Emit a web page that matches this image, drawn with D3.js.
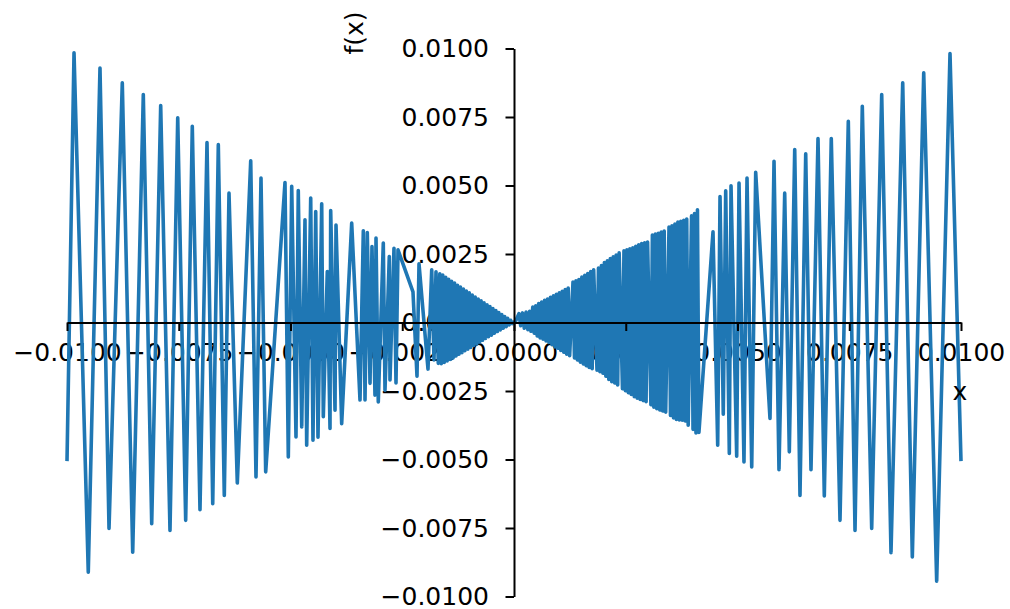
<!DOCTYPE html>
<html>
<head>
<meta charset="utf-8">
<script src="https://cdn.jsdelivr.net/npm/d3@7"></script>
<style>
  body { margin: 0; background: #fff; }
  svg text { font-family: "DejaVu Sans", sans-serif; }
</style>
</head>
<body>
<div id="chart"></div>
<script>
// tick positions and their labels (same for both axes)
const tickValues = [-0.01, -0.0075, -0.005, -0.0025, 0, 0.0025, 0.005, 0.0075, 0.01];
const tickLabels = ["\u22120.0100", "\u22120.0075", "\u22120.0050", "\u22120.0025", "0.0000",
                    "0.0025", "0.0050", "0.0075", "0.0100"];

const outerLeft = [
  [-0.01, -0.00506], [-0.009843, 0.00984], [-0.009524, -0.00911], [-0.009262, 0.00929],
  [-0.00906, -0.00752], [-0.008763, 0.00875], [-0.00853, -0.00838], [-0.008293, 0.00832],
  [-0.008105, -0.00734], [-0.007904, 0.00792], [-0.007696, -0.00759], [-0.007523, 0.00747],
  [-0.007345, -0.00722], [-0.007197, 0.00716], [-0.007025, -0.00683], [-0.006868, 0.00657],
  [-0.00674, -0.00661], [-0.006615, 0.00649], [-0.006481, -0.00631], [-0.006376, 0.00472],
  [-0.00619, -0.00586], [-0.00589, 0.0059], [-0.005772, -0.00564], [-0.00566, 0.00527],
  [-0.005555, -0.00545], [-0.005123, 0.00511], [-0.005049, -0.00491], [-0.004973, 0.00497],
  [-0.004877, -0.00418], [-0.004826, 0.00482], [-0.004749, -0.00381], [-0.004676, 0.00375],
  [-0.004638, -0.00448], [-0.004548, 0.00454], [-0.004497, -0.0043], [-0.004436, 0.00405],
  [-0.004385, -0.00419], [-0.004302, 0.00433], [-0.004266, -0.00344], [-0.004177, 0.00186],
  [-0.004116, -0.00387], [-0.004101, 0.00409], [-0.004004, -0.0032], [-0.003982, 0.00356],
  [-0.003855, -0.00369], [-0.003631, 0.00363], [-0.003445, -0.00283], [-0.003371, 0.00335],
  [-0.003333, -0.00283], [-0.003282, 0.00328], [-0.003221, -0.00222], [-0.003177, 0.00277],
  [-0.00311, -0.00265], [-0.003087, 0.00308], [-0.003036, -0.0029], [-0.002924, 0.0029],
  [-0.002886, -0.00247], [-0.00279, 0.00241], [-0.002774, -0.0021], [-0.002685, 0.00271],
  [-0.00264, -0.00221], [-0.002595, 0.00265], [-0.00226, 0.00112], [-0.00217, -0.00196],
  [-0.002125, 0.00214], [-0.001924, -0.0017], [-0.001841, 0.00192], [-0.00179, -0.00137],
  [-0.001745, 0.00185], [-0.001694, -0.00149]
];

const coreLeft = [
  [-0.00166, 0.00178], [-0.001627, -0.0015], [-0.001594, 0.00173], [-0.001561, -0.00146],
  [-0.001528, 0.00165], [-0.001495, -0.0014], [-0.001462, 0.00158], [-0.001429, -0.00135],
  [-0.001396, 0.0015], [-0.001363, -0.00129], [-0.00133, 0.00144], [-0.001297, -0.00122],
  [-0.001264, 0.00136], [-0.001231, -0.00116], [-0.001198, 0.00129], [-0.001165, -0.0011],
  [-0.001132, 0.00122], [-0.001099, -0.00103], [-0.001066, 0.00115], [-0.001033, -0.00097],
  [-0.001, 0.00108], [-0.000967, -0.00091], [-0.000934, 0.001], [-0.000901, -0.00084],
  [-0.000868, 0.00093], [-0.000835, -0.00078], [-0.000802, 0.00086], [-0.000769, -0.00071],
  [-0.000736, 0.00079], [-0.000703, -0.00065], [-0.00067, 0.00072], [-0.000637, -0.00058],
  [-0.000604, 0.00065], [-0.000571, -0.00052], [-0.000538, 0.00058], [-0.000505, -0.00046],
  [-0.000472, 0.00051], [-0.000439, -0.00039], [-0.000406, 0.00044], [-0.000373, -0.00033],
  [-0.00034, 0.00036], [-0.000307, -0.00027], [-0.000274, 0.00029], [-0.000241, -0.00021],
  [-0.000208, 0.00022], [-0.000175, -0.00015], [-0.000142, 0.00015], [-0.000109, -0.00009],
  [-0.000076, 0.00008], [-0.000043, -0.00004], [-0.00001, 0.00001]
];

const coreMid = [
  [0.00003, 0.00003], [0.00011, 0.00032], [0.00015, -0.00012], [0.00019, 0.00035],
  [0.00023, -0.00021], [0.00027, 0.00038], [0.00031, -0.00026], [0.00035, 0.00041],
  [0.00038, -0.00032]
];

const coreRight = [
  [0.00042, 0.00056], [0.000453, -0.00039], [0.000486, 0.00061], [0.000519, -0.00049],
  [0.000552, 0.00069], [0.000585, -0.00056], [0.000618, 0.00075], [0.000651, -0.00061],
  [0.000684, 0.00081], [0.000717, -0.00067], [0.00075, 0.00086], [0.000783, -0.00073],
  [0.000816, 0.00092], [0.000849, -0.00081], [0.000882, 0.00097], [0.000915, -0.00089],
  [0.000948, 0.00103], [0.000981, -0.00094], [0.001014, 0.00108], [0.001047, -0.00102],
  [0.00108, 0.00114], [0.001113, -0.00108], [0.001146, 0.0012], [0.001179, -0.00116],
  [0.001212, 0.00126], [0.001245, -0.00121],
  [0.00132, 0.00148], [0.001353, -0.00129], [0.001386, 0.00152], [0.001419, -0.00137],
  [0.001452, 0.00157], [0.001485, -0.00145], [0.001518, 0.00166], [0.001551, -0.00151],
  [0.001584, 0.00172], [0.001617, -0.00158], [0.00165, 0.00179], [0.001683, -0.00164],
  [0.001716, 0.00186], [0.001749, -0.00169], [0.001782, 0.00192],
  [0.001857, -0.00174], [0.00189, 0.00199], [0.001923, -0.0018], [0.001956, 0.00208],
  [0.001989, -0.00185], [0.002022, 0.00219], [0.002055, -0.00196], [0.002088, 0.00225],
  [0.002121, -0.00208], [0.002154, 0.00233], [0.002187, -0.00216], [0.00222, 0.0024],
  [0.002253, -0.00221], [0.002286, 0.00246], [0.002319, -0.00228], [0.002352, 0.00254],
  [0.002427, -0.00242], [0.00246, 0.00262], [0.002493, -0.00249], [0.002526, 0.00265],
  [0.002559, -0.00256], [0.002592, 0.00269], [0.002625, -0.00263], [0.002658, 0.00273],
  [0.002691, -0.00271], [0.002724, 0.00278], [0.002757, -0.00276], [0.00279, 0.00284],
  [0.002823, -0.00281], [0.002856, 0.00288], [0.002889, -0.00285], [0.002922, 0.00291],
  [0.002955, -0.00289], [0.002988, 0.00294],
  [0.003063, -0.003], [0.003096, 0.00319], [0.003129, -0.00309], [0.003162, 0.00323],
  [0.003195, -0.00315], [0.003228, 0.00326], [0.003261, -0.00319], [0.003294, 0.0033],
  [0.003327, -0.00323], [0.00336, 0.00334], [0.003393, -0.00327],
  [0.003468, 0.00348], [0.003501, -0.00339], [0.003534, 0.00353], [0.003567, -0.00348],
  [0.0036, 0.00359], [0.003633, -0.00354], [0.003666, 0.00367], [0.003699, -0.00356],
  [0.003732, 0.00369], [0.003765, -0.00357], [0.003798, 0.00373], [0.003831, -0.00359],
  [0.003864, 0.00378], [0.003897, -0.00375],
  [0.003972, 0.00389], [0.004005, -0.0039], [0.004038, 0.00398], [0.004071, -0.00403],
  [0.004104, 0.00411], [0.004137, -0.00401]
];

const outerRight = [
  [0.004452, 0.00331], [0.004557, -0.00448], [0.004609, 0.0046], [0.004682, -0.00335],
  [0.004736, 0.00481], [0.004817, -0.00478], [0.004855, 0.00499], [0.004982, -0.00488],
  [0.005034, 0.00509], [0.005145, -0.00509], [0.005213, 0.00527], [0.005318, -0.00527],
  [0.005407, 0.00548], [0.005727, -0.0035], [0.005817, 0.00588], [0.005928, -0.00537],
  [0.006056, 0.00472], [0.006159, -0.00472], [0.00628, 0.00631], [0.006398, -0.00631],
  [0.006526, 0.00616], [0.006644, -0.00537], [0.006801, 0.00671], [0.006942, -0.00633],
  [0.007098, 0.00671], [0.007293, -0.00722], [0.007479, 0.00734], [0.007629, -0.00759],
  [0.007792, 0.00789], [0.008002, -0.00752], [0.008226, 0.00832], [0.008434, -0.0084],
  [0.008696, 0.00875], [0.008911, -0.00856], [0.009166, 0.00911], [0.009456, -0.00944],
  [0.009754, 0.00982], [0.01, -0.00506]
];

const points = [...outerLeft, ...coreLeft, ...coreMid, ...coreRight, ...outerRight];

const WIDTH = 1010;
const HEIGHT = 609;
const FONT_SIZE = 25;
const LINE_COLOR = "#1f77b4";

let xScale = d3.scaleLinear().domain([-0.01, 0.01]).range([67, 961]);
let yScale = d3.scaleLinear().domain([-0.01, 0.01]).range([596.5, 48.5]);

let svg = d3.select("#chart")
            .append("svg")
            .attr("width", WIDTH)
            .attr("height", HEIGHT);

// tick labels go under the curve, like in the original
let xLabelAxis = d3.axisBottom(xScale)
                   .tickValues(tickValues)
                   .tickFormat((d, i) => tickLabels[i])
                   .tickSize(0)
                   .tickPadding(21);
svg.append("g")
   .attr("transform", "translate(0," + yScale(0) + ")")
   .call(xLabelAxis)
   .call(g => g.select(".domain").remove())
   .attr("font-size", FONT_SIZE)
   .attr("font-family", null)
   .attr("color", "#000");

let yLabelAxis = d3.axisLeft(yScale)
                   .tickValues(tickValues)
                   .tickFormat((d, i) => tickLabels[i])
                   .tickSize(0)
                   .tickPadding(25);
svg.append("g")
   .attr("transform", "translate(" + xScale(0) + ",0)")
   .call(yLabelAxis)
   .call(g => g.select(".domain").remove())
   .attr("font-size", FONT_SIZE)
   .attr("font-family", null)
   .attr("color", "#000");

// the curve
let line = d3.line()
             .x(d => xScale(d[0]))
             .y(d => yScale(d[1]));
svg.append("path")
   .datum(points)
   .attr("d", line)
   .attr("fill", "none")
   .attr("stroke", LINE_COLOR)
   .attr("stroke-width", 3.6)
   .attr("stroke-linejoin", "round");

// spines and tick marks on top
let xTickAxis = d3.axisBottom(xScale)
                  .tickValues(tickValues)
                  .tickFormat("")
                  .tickSizeInner(8.5)
                  .tickSizeOuter(0);
svg.append("g")
   .attr("transform", "translate(0," + yScale(0) + ")")
   .call(xTickAxis)
   .attr("color", "#000")
   .call(g => g.selectAll("path, line").attr("stroke-width", 2));

let yTickAxis = d3.axisLeft(yScale)
                  .tickValues(tickValues)
                  .tickFormat("")
                  .tickSizeInner(8.5)
                  .tickSizeOuter(0);
svg.append("g")
   .attr("transform", "translate(" + xScale(0) + ",0)")
   .call(yTickAxis)
   .attr("color", "#000")
   .call(g => g.selectAll("path, line").attr("stroke-width", 2));

// axis titles
svg.append("text")
   .attr("transform", "translate(363,33) rotate(-90)")
   .attr("text-anchor", "middle")
   .attr("font-size", FONT_SIZE)
   .text("f(x)");

svg.append("text")
   .attr("x", 960)
   .attr("y", 400)
   .attr("text-anchor", "middle")
   .attr("font-size", FONT_SIZE)
   .text("x");
</script>
</body>
</html>
